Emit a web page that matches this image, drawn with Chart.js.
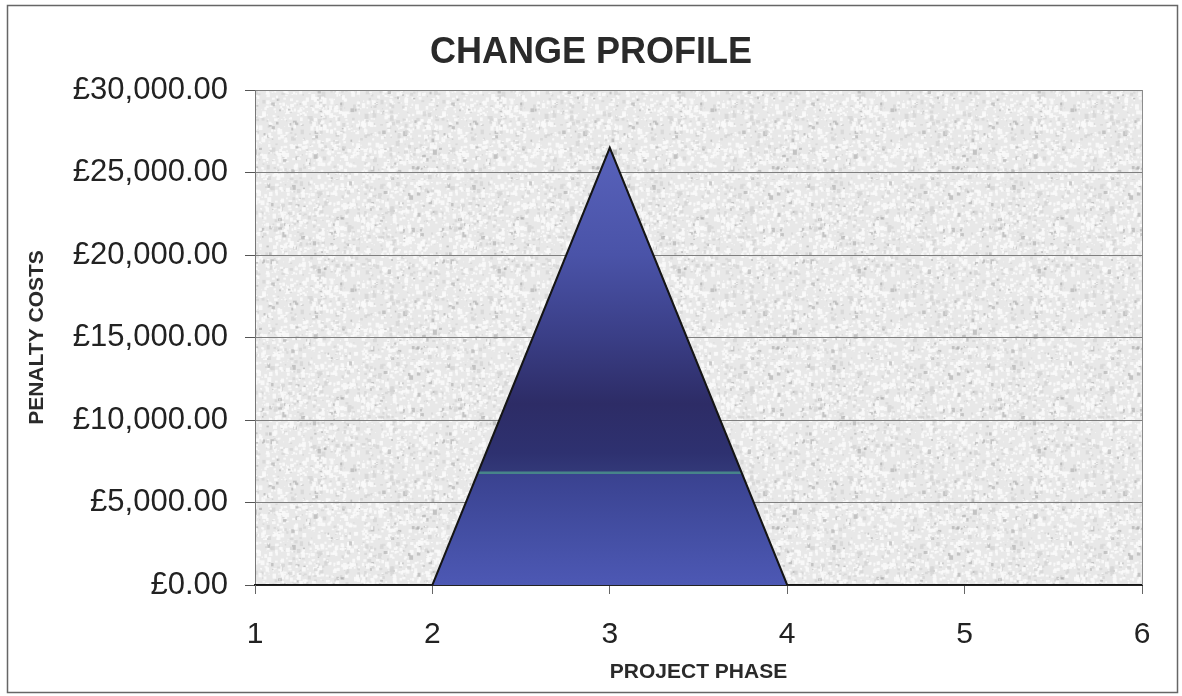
<!DOCTYPE html>
<html>
<head>
<meta charset="utf-8">
<title>Change Profile</title>
<script src="https://cdn.jsdelivr.net/npm/chart.js@4/dist/chart.umd.min.js"></script>
<style>
  html, body { margin: 0; padding: 0; background: #fff; }
  #wrap { width: 1182px; height: 696px; }
</style>
</head>
<body>
<div id="wrap"><canvas id="profileChart" width="1182" height="696"></canvas></div>
<script>
// Project phases along the bottom
const phases = ['1', '2', '3', '4', '5', '6'];
// Penalty cost at each phase
const penaltyCosts = [0, 0, 26500, 0, 0, 0];
// Y axis ticks and their labels
const yTickValues = [0, 5000, 10000, 15000, 20000, 25000, 30000];
const yTickLabels = ['£0.00', '£5,000.00', '£10,000.00', '£15,000.00', '£20,000.00', '£25,000.00', '£30,000.00'];
const chartTitle = 'CHANGE PROFILE';

const FONT = '"Liberation Sans", Arial, sans-serif';

// Speckled light grey texture for the plot background
function makeSpeckle() {
    const c = document.createElement('canvas');
    c.width = 180; c.height = 180;
    const g = c.getContext('2d');
    g.fillStyle = '#e8e8e8';
    g.fillRect(0, 0, 180, 180);
    let seed = 98765;
    const rnd = () => { seed = (seed * 1103515245 + 12345) & 0x7fffffff; return seed / 0x7fffffff; };
    for (let i = 0; i < 2200; i++) {
        const x = rnd() * 180, y = rnd() * 180;
        const s = 1 + rnd() * 3;
        const v = rnd();
        if (v < 0.7) g.fillStyle = 'rgba(250,250,250,0.9)';
        else if (v < 0.93) g.fillStyle = 'rgba(212,212,212,0.8)';
        else g.fillStyle = 'rgba(170,170,170,0.6)';
        g.fillRect(x, y, s, s * (0.5 + rnd()));
    }
    return c;
}
const speckle = makeSpeckle();

// Frame, plot background, right edge of the plot and the title
const plotDecor = {
    id: 'plotDecor',
    beforeDraw(chart) {
        const {ctx, chartArea: a} = chart;
        ctx.save();
        ctx.fillStyle = '#fff';
        ctx.fillRect(0, 0, chart.width, chart.height);
        ctx.strokeStyle = '#666';
        ctx.lineWidth = 1.5;
        ctx.strokeRect(7.5, 5.5, 1170, 687);
        ctx.fillStyle = ctx.createPattern(speckle, 'repeat');
        ctx.fillRect(a.left, a.top, a.right - a.left, a.bottom - a.top);
        ctx.restore();
    },
    afterDatasetsDraw(chart) {
        const {ctx, chartArea: a} = chart;
        ctx.save();
        ctx.strokeStyle = '#8c8c8c';
        ctx.lineWidth = 1;
        ctx.beginPath();
        ctx.moveTo(a.right + 0.5, a.top);
        ctx.lineTo(a.right + 0.5, a.bottom);
        ctx.stroke();
        ctx.restore();
    },
    afterDraw(chart) {
        const ctx = chart.ctx;
        ctx.save();
        ctx.fillStyle = '#2a2a2a';
        ctx.font = 'bold 36px ' + FONT;
        ctx.textAlign = 'center';
        ctx.textBaseline = 'middle';
        ctx.fillText(chartTitle, 591, 53);
        ctx.restore();
    }
};

// Blue shading of the filled area, darker through the middle
function areaFill(context) {
    const chart = context.chart;
    const {ctx, chartArea, scales} = chart;
    if (!chartArea) return '#3b4496';
    const y = scales.y;
    const top = y.getPixelForValue(26500);
    const bottom = y.getPixelForValue(0);
    const grad = ctx.createLinearGradient(0, top, 0, bottom);
    const at = v => (y.getPixelForValue(v) - top) / (bottom - top);
    grad.addColorStop(0, '#5862bb');
    grad.addColorStop(at(20000), '#4a53a8');
    grad.addColorStop(at(15000), '#3a3e86');
    grad.addColorStop(at(11000), '#2d2c66');
    grad.addColorStop(at(8000), '#2e3170');
    grad.addColorStop(at(6900), '#323878');
    grad.addColorStop(at(6860), '#47848a');
    grad.addColorStop(at(6740), '#47848a');
    grad.addColorStop(at(6700), '#3a4290');
    grad.addColorStop(at(3000), '#444fa4');
    grad.addColorStop(1, '#4d58b4');
    return grad;
}

const ctx = document.getElementById('profileChart').getContext('2d');
const myChart = new Chart(ctx, {
    type: 'line',
    data: {
        labels: phases,
        datasets: [{
            label: 'Penalty costs',
            data: penaltyCosts,
            fill: 'origin',
            backgroundColor: areaFill,
            borderColor: '#151515',
            borderWidth: 2,
            pointRadius: 0,
            tension: 0
        }]
    },
    plugins: [plotDecor],
    options: {
        responsive: false,
        animation: false,
        layout: { padding: { left: 0, right: 40, top: 90, bottom: 0 } },
        plugins: {
            legend: { display: false },
            tooltip: { enabled: false },
            title: { display: false }
        },
        scales: {
            x: {
                offset: false,
                grid: { drawOnChartArea: false, drawTicks: true, tickLength: 9, color: '#666' },
                border: { color: '#222', width: 2 },
                ticks: { color: '#222', padding: 23, maxRotation: 0, font: { family: FONT, size: 30 } },
                title: {
                    display: true,
                    text: 'PROJECT PHASE',
                    color: '#2a2a2a',
                    font: { family: FONT, size: 21, weight: 'bold' },
                    padding: { top: 0, bottom: 11 }
                },
                afterFit(scale) { scale.height = 111; }
            },
            y: {
                min: 0,
                max: 30000,
                afterBuildTicks(scale) { scale.ticks = yTickValues.map(v => ({ value: v })); },
                grid: { color: '#7f7f7f', lineWidth: 1, tickLength: 10, tickColor: '#555' },
                border: { color: '#777', width: 1 },
                ticks: {
                    color: '#222',
                    padding: 17,
                    font: { family: FONT, size: 31 },
                    callback: (value, index) => yTickLabels[index]
                },
                title: {
                    display: true,
                    text: 'PENALTY COSTS',
                    color: '#2a2a2a',
                    font: { family: FONT, size: 21, weight: 'bold' },
                    padding: { top: 25, bottom: 0 }
                },
                afterFit(scale) { scale.width = 255; }
            }
        }
    }
});
</script>
</body>
</html>
